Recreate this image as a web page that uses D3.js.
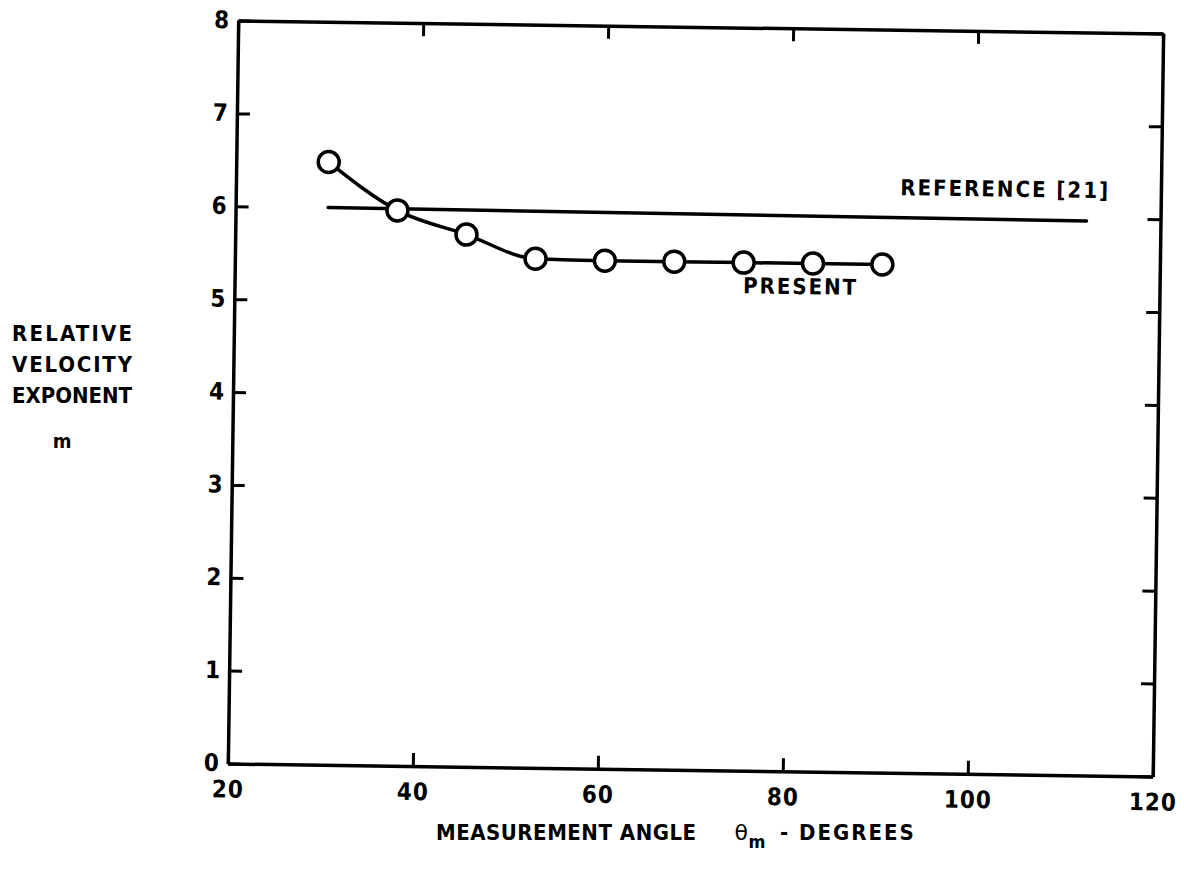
<!DOCTYPE html>
<html>
<head>
<meta charset="utf-8">
<script src="https://cdn.jsdelivr.net/npm/d3@7"></script>
<style>
  body { margin: 0; background: #fff; }
  svg text { font-family: "DejaVu Sans Condensed", "DejaVu Sans", sans-serif; font-weight: bold; fill: #000; }
</style>
</head>
<body>
<div id="chart"></div>
<script>
// measured points (present study)
const angles = [30, 37.5, 45, 52.5, 60, 67.5, 75, 82.5, 90];
const exponents = [6.49, 5.98, 5.73, 5.48, 5.47, 5.47, 5.47, 5.47, 5.47];

// reference [21] line
const refAngles = [30, 112];
const refExponents = [6.0, 5.97];

const xTicks = [20, 40, 60, 80, 100, 120];
const yTicks = [0, 1, 2, 3, 4, 5, 6, 7, 8];

const W = 1184, H = 883;
const svg = d3.select("#chart").append("svg")
    .attr("width", W)
    .attr("height", H);

// the scanned figure is slightly tilted, so the plot group is too
const plot = svg.append("g")
    .attr("transform", "rotate(0.8, 697, 397)");

const x = d3.scaleLinear().domain([20, 120]).range([233, 1158]);
const y = d3.scaleLinear().domain([0, 8]).range([770, 27]);

const tick = 13;

function styleAxis(g, showLabels) {
    g.select(".domain").attr("stroke", "#000").attr("stroke-width", 3.5);
    g.selectAll(".tick line").attr("stroke", "#000").attr("stroke-width", 3);
    g.selectAll(".tick text")
        .attr("font-family", null)
        .attr("font-size", null)
        .style("font-size", "24px")
        .style("letter-spacing", "1px")
        .attr("fill", "#000");
    if (!showLabels) g.selectAll(".tick text").remove();
}

// bottom axis
plot.append("g")
    .attr("transform", `translate(0,${y(0)})`)
    .call(d3.axisBottom(x).tickValues(xTicks).tickSize(-tick).tickSizeOuter(0).tickPadding(34))
    .call(g => styleAxis(g, true))
    .call(g => g.selectAll(".tick text").attr("dy", "0"));

// left axis
plot.append("g")
    .attr("transform", `translate(${x(20)},0)`)
    .call(d3.axisLeft(y).tickValues(yTicks).tickSize(-tick).tickSizeOuter(0).tickPadding(8))
    .call(g => styleAxis(g, true))
    .call(g => g.selectAll(".tick text").attr("dy", "0.3em"));

// top axis
plot.append("g")
    .attr("transform", `translate(0,${y(8)})`)
    .call(d3.axisTop(x).tickValues(xTicks).tickSize(-tick).tickSizeOuter(0))
    .call(g => styleAxis(g, false));

// right axis
plot.append("g")
    .attr("transform", `translate(${x(120)},0)`)
    .call(d3.axisRight(y).tickValues(yTicks).tickSize(-tick).tickSizeOuter(0))
    .call(g => styleAxis(g, false));

// reference line
const refData = refAngles.map((a, i) => ({ a: a, m: refExponents[i] }));
plot.append("path")
    .datum(refData)
    .attr("fill", "none")
    .attr("stroke", "#000")
    .attr("stroke-width", 3.5)
    .attr("stroke-linecap", "round")
    .attr("d", d3.line().x(d => x(d.a)).y(d => y(d.m)));

// present data curve
const pts = angles.map((a, i) => ({ a: a, m: exponents[i] }));
plot.append("path")
    .datum(pts)
    .attr("fill", "none")
    .attr("stroke", "#000")
    .attr("stroke-width", 3.5)
    .attr("d", d3.line().curve(d3.curveMonotoneX).x(d => x(d.a)).y(d => y(d.m)));

plot.selectAll("circle.pt")
    .data(pts)
    .enter()
    .append("circle")
    .attr("class", "pt")
    .attr("cx", d => x(d.a))
    .attr("cy", d => y(d.m))
    .attr("r", 10.5)
    .attr("fill", "#fff")
    .attr("stroke", "#000")
    .attr("stroke-width", 3.5);

// curve labels
plot.append("text")
    .attr("x", x(114.5))
    .attr("y", y(6.22))
    .attr("text-anchor", "end")
    .style("font-size", "22px")
    .style("letter-spacing", "2px")
    .text("REFERENCE [21]");

plot.append("text")
    .attr("x", x(81.2))
    .attr("y", y(5.14))
    .attr("text-anchor", "middle")
    .style("font-size", "22px")
    .style("letter-spacing", "2px")
    .text("PRESENT");

// axis titles
const xt = svg.append("text")
    .attr("x", 436)
    .attr("y", 840)
    .style("font-size", "22px")
    .style("letter-spacing", "0.5px");
xt.append("tspan").text("MEASUREMENT ANGLE");
xt.append("tspan").attr("dx", 38).style("font-weight", "normal").style("font-family", "DejaVu Sans").text("\u03b8");
xt.append("tspan").attr("dy", 8).style("font-size", "18px").text("m");
xt.append("tspan").attr("dy", -8).attr("dx", 14).style("letter-spacing", "2px").text("- DEGREES");

const yTitle = ["RELATIVE", "VELOCITY", "EXPONENT"];
svg.selectAll("text.ytitle")
    .data(yTitle)
    .enter()
    .append("text")
    .attr("class", "ytitle")
    .attr("x", 12)
    .attr("y", (d, i) => 341 + i * 31)
    .attr("textLength", 120)
    .attr("lengthAdjust", "spacing")
    .style("font-size", "22px")
    .text(d => d);

svg.append("text")
    .attr("x", 62)
    .attr("y", 448)
    .attr("text-anchor", "middle")
    .style("font-size", "20px")
    .text("m");
</script>
</body>
</html>
